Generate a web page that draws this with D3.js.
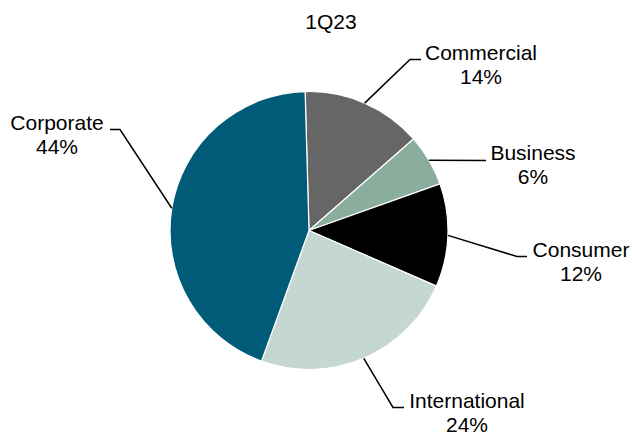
<!DOCTYPE html>
<html>
<head>
<meta charset="utf-8">
<script src="https://cdn.jsdelivr.net/npm/d3@7"></script>
<style>
  html, body { margin: 0; padding: 0; background: #fff; }
  svg { display: block; }
  text { font-family: "Liberation Sans", Arial, sans-serif; fill: #000; }
</style>
</head>
<body>
<svg id="chart" width="632" height="435"></svg>
<script>
// Segment mix for the quarter, in percent, clockwise from 12 o'clock
const title = "1Q23";
const categories = ["Commercial", "Business", "Consumer", "International", "Corporate"];
const shares = [14, 6, 12, 24, 44];
const colors = ["#666666", "#8aad9e", "#000000", "#c5d7d1", "#005b79"];

// Label placement: elbow of the leader line and text anchor, relative to the pie centre
const labelLayout = [
  { elbow: [101, -171], end: [112, -171], text: [172, -171] },
  { elbow: [177, -70],  end: [177, -70],  text: [224, -71] },
  { elbow: [208, 26],   end: [218, 26],   text: [272, 26] },
  { elbow: [84, 177],   end: [95, 177],   text: [158, 177] },
  { elbow: [-189, -101], end: [-199, -101], text: [-252, -101] }
];

const width = 632, height = 435;
const cx = 309, cy = 230.5, radius = 139;
const fontSize = 21, lineHeight = 24;

const svg = d3.select("#chart");

svg.append("text")
  .attr("x", 331)
  .attr("y", 29)
  .attr("text-anchor", "middle")
  .attr("font-size", fontSize)
  .text(title);

const startOffset = -1.6 * Math.PI / 180;
const pie = d3.pie()
  .value(d => d.value)
  .sort(null)
  .startAngle(startOffset)
  .endAngle(startOffset + 2 * Math.PI);

const data = categories.map((c, i) => ({ name: c, value: shares[i], color: colors[i], layout: labelLayout[i] }));
const arcs = pie(data);

const arc = d3.arc().innerRadius(0).outerRadius(radius);
const edge = d3.arc().innerRadius(radius).outerRadius(radius);

const g = svg.append("g").attr("transform", `translate(${cx},${cy})`);

g.selectAll("path.slice")
  .data(arcs)
  .join("path")
  .attr("class", "slice")
  .attr("d", arc)
  .attr("fill", d => d.data.color)
  .attr("stroke", "#ffffff")
  .attr("stroke-width", 1.2)
  .attr("stroke-linejoin", "round");

// Leader lines from the slice edge to each label
g.selectAll("polyline.leader")
  .data(arcs)
  .join("polyline")
  .attr("class", "leader")
  .attr("points", d => {
    const p = edge.centroid(d);
    const L = d.data.layout;
    return [p, L.elbow, L.end].map(q => q.join(",")).join(" ");
  })
  .attr("fill", "none")
  .attr("stroke", "#000")
  .attr("stroke-width", 1.5);

const labels = g.selectAll("text.lbl")
  .data(arcs)
  .join("text")
  .attr("class", "lbl")
  .attr("text-anchor", "middle")
  .attr("font-size", fontSize)
  .attr("x", d => d.data.layout.text[0])
  .attr("y", d => d.data.layout.text[1]);

labels.append("tspan")
  .attr("x", d => d.data.layout.text[0])
  .text(d => d.data.name);

labels.append("tspan")
  .attr("x", d => d.data.layout.text[0])
  .attr("dy", lineHeight)
  .text(d => d3.format(".0f")(d.data.value) + "%");
</script>
</body>
</html>
